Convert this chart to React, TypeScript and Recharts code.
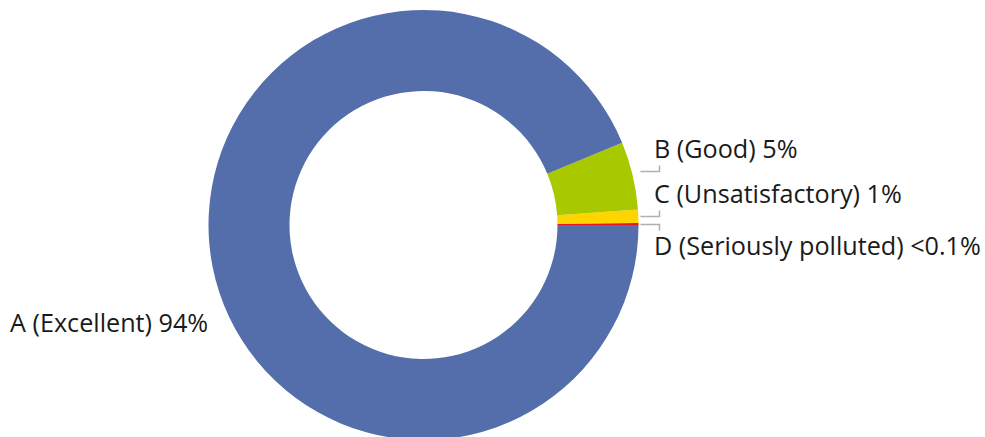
import React from "react";
import { PieChart, Pie, Cell } from "recharts";

// ordered counter-clockwise from 3 o'clock
const classes = ["D", "C", "B", "A"];
const classLabels = [
  "D (Seriously polluted) <0.1%",
  "C (Unsatisfactory) 1%",
  "B (Good) 5%",
  "A (Excellent) 94%",
];
const shares = [0.15, 1.0, 5.1, 93.75];
const COLORS = ["#E8141C", "#FFD500", "#A8C800", "#536EAB"];

const data = classes.map((name, i) => ({
  name,
  label: classLabels[i],
  value: shares[i],
}));

const RADIAN = Math.PI / 180;
const FONT = "'Open Sans', sans-serif";
const FONT_SIZE = 25.2;
// small hand nudges of the leader lines, like the original layout
const lineNudge: Record<string, number> = { B: -4, C: 0, D: 0 };

const renderLabel = (p: any) => {
  const { cx, cy, outerRadius, midAngle, index } = p;
  const d = data[index];
  if (d.name === "A") {
    return (
      <text x={10} y={cy + 107} fill="#1a1a1a" fontSize={FONT_SIZE} fontFamily={FONT} textAnchor="start">
        {d.label}
      </text>
    );
  }
  const lineY =
    Math.round(cy - (outerRadius + 2) * Math.sin(midAngle * RADIAN)) + 0.5 + (lineNudge[d.name] || 0);
  const x0 = cx + outerRadius + 2;
  const x1 = x0 + 19;
  const up = d.name !== "D";
  const hookY = up ? lineY - 6 : lineY + 6;
  const baseY = up ? lineY - 14 : lineY + 30;
  return (
    <g>
      <polyline
        points={`${x0},${lineY} ${x1},${lineY} ${x1},${hookY}`}
        fill="none"
        stroke="#b0b0b0"
        strokeWidth={1.5}
      />
      <text x={654} y={baseY} fill="#1a1a1a" fontSize={FONT_SIZE} fontFamily={FONT} textAnchor="start">
        {d.label}
      </text>
    </g>
  );
};

export default function App() {
  return (
    <div style={{ position: "absolute", left: 0, top: 0 }}>
      <PieChart width={985} height={437} margin={{ top: 0, right: 0, bottom: 0, left: 0 }}>
        <Pie
          data={data}
          dataKey="value"
          cx={423.5}
          cy={225}
          innerRadius={134}
          outerRadius={215}
          startAngle={0}
          endAngle={360}
          stroke="none"
          labelLine={false}
          label={renderLabel}
          isAnimationActive={false}
        >
          {data.map((d, i) => (
            <Cell key={d.name} fill={COLORS[i]} stroke="none" />
          ))}
        </Pie>
      </PieChart>
    </div>
  );
}
